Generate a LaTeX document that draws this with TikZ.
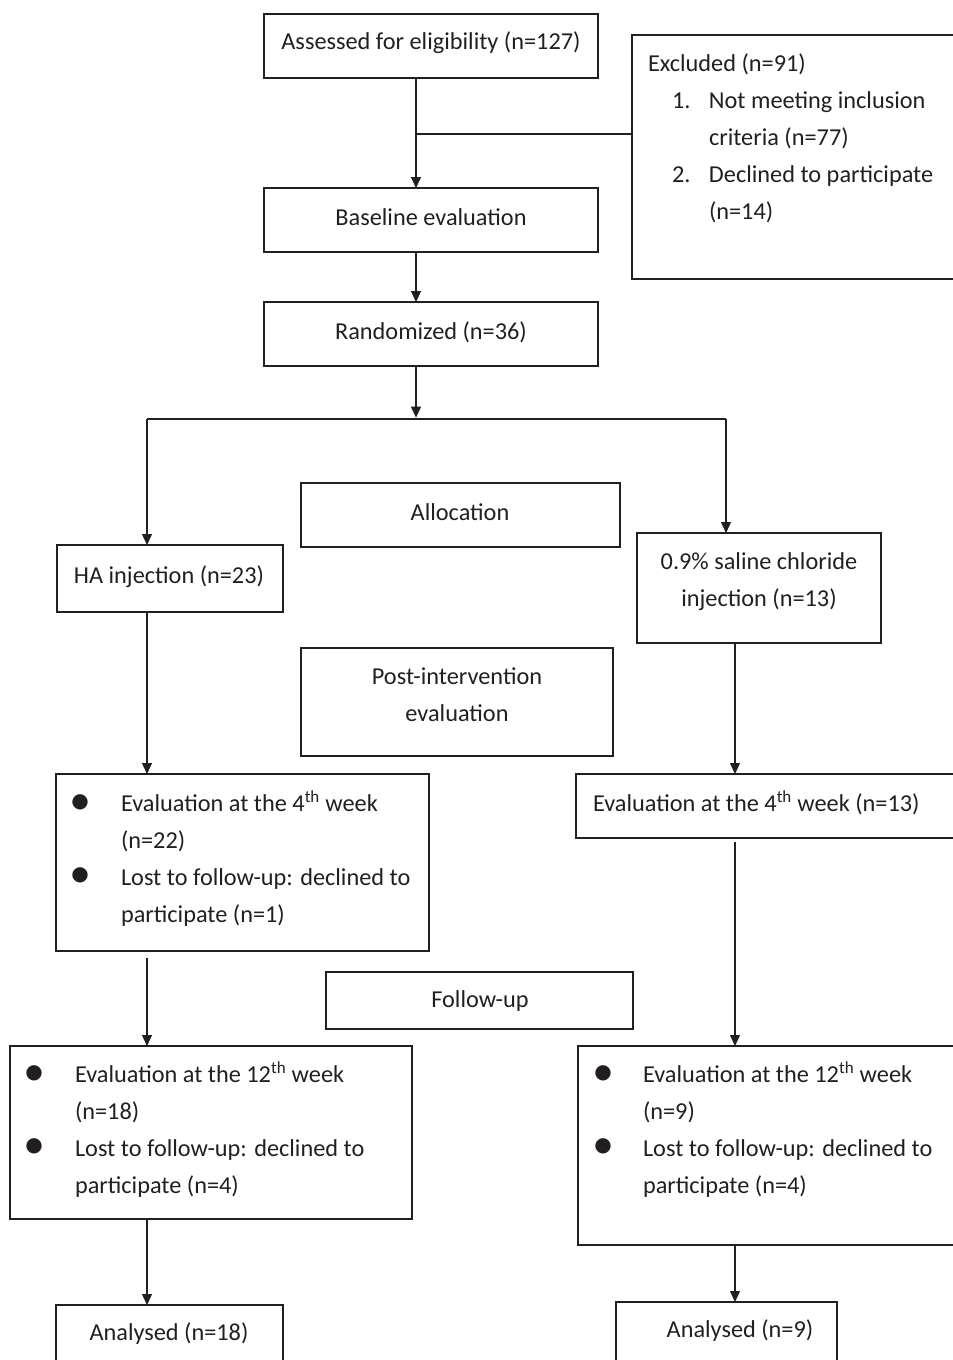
\documentclass[tikz,border=0pt]{standalone}
\usepackage{fontspec}
\setmainfont{Carlito}
\newfontfamily\djfont{DejaVu Sans}
\usetikzlibrary{arrows.meta}
\definecolor{ink}{RGB}{35,31,32}
\newcommand\mybox[5]{\node[bx, minimum width={#4-#2}, minimum height={#5-#3}] (#1) at ({(#2+#4)/2},{(#3+#5)/2}) {};}
\begin{document}
\begin{tikzpicture}[x=1pt,y=-1pt,
  bx/.style={draw=ink, line width=1.2pt, inner sep=0pt, outer sep=0pt, rectangle},
  tx/.style={inner sep=0pt, outer sep=0pt, align=left, text=ink, yshift=-2pt, font=\fontsize{24.3}{37}\selectfont},
  txc/.style={tx, align=center},
  bul/.style={inner sep=0pt, outer sep=0pt, text=ink, font=\djfont\fontsize{20}{24}\selectfont},
  arr/.style={draw=ink, line width=1.2pt, -{Triangle[length=11pt,width=10pt]}},
  ln/.style={draw=ink, line width=1.2pt},
  thick line/.style={draw=ink, line width=2.8pt}]
\useasboundingbox (0,0) rectangle (953,1360);
% boxes
\mybox{assess}{264}{14}{598}{78}
\mybox{excl}{632}{35}{1000}{279}
\mybox{base}{264}{188}{598}{252}
\mybox{rand}{264}{302}{598}{366}
\mybox{alloc}{301}{483}{620}{547}
\mybox{ha}{57}{545}{283}{612}
\mybox{sal}{637}{533}{881}{643}
\mybox{post}{301}{648}{613}{756}
\mybox{lwa}{56}{774}{429}{951}
\mybox{rwa}{576}{774}{1000}{838}
\mybox{fu}{326}{972}{633}{1029}
\mybox{lwb}{10}{1046}{412}{1219}
\mybox{rwb}{578}{1046}{1000}{1245}
\mybox{lan}{56}{1305}{283}{1400}
\mybox{ran}{616}{1302}{837}{1400}
% texts
\node[txc] (t-assess) at (431,41) {Assessed for eligibility (n=127)};
\node[tx, anchor=west] (t-excl) at (648,136) {Excluded (n=91)\\
\hspace*{24pt}\makebox[37pt][l]{1.}Not meeting inclusion\\
\hspace*{61pt}criteria (n=77)\\
\hspace*{24pt}\makebox[37pt][l]{2.}Declined to participate\\
\hspace*{61pt}(n=14)};
\node[txc] (t-base) at (431,215) {Baseline evaluation};
\node[txc] (t-rand) at (431,330) {Randomized (n=36)};
\node[txc] (t-alloc) at (460,510) {Allocation};
\node[txc] (t-ha) at (169,575) {HA injection (n=23)};
\node[txc] (t-sal) at (759,580) {0.9\% saline chloride\\injection (n=13)};
\node[txc] (t-post) at (457,693) {Post-intervention\\evaluation};
\node[tx, anchor=west] (t-lwa) at (121,857) {Evaluation at the 4\textsuperscript{th} week\\(n=22)\\Lost to follow-up: declined to\\participate (n=1)};
\node[bul] (b1) at (80,802) {●};
\node[bul] (b2) at (80,875) {●};
\node[tx, anchor=west] (t-rwa) at (593,801) {Evaluation at the 4\textsuperscript{th} week (n=13)};
\node[txc] (t-fu) at (480,999) {Follow-up};
\node[tx, anchor=west] (t-lwb) at (75,1128) {Evaluation at the 12\textsuperscript{th} week\\(n=18)\\Lost to follow-up: declined to\\participate (n=4)};
\node[bul] (b3) at (34,1073) {●};
\node[bul] (b4) at (34,1146) {●};
\node[tx, anchor=west] (t-rwb) at (643,1128) {Evaluation at the 12\textsuperscript{th} week\\(n=9)\\Lost to follow-up: declined to\\participate (n=4)};
\node[bul] (b5) at (603,1073) {●};
\node[bul] (b6) at (603,1146) {●};
\node[txc] (t-lan) at (169,1332) {Analysed (n=18)};
\node[txc] (t-ran) at (740,1329) {Analysed (n=9)};
% connectors
\coordinate (cx) at (416,134);
\coordinate (split) at (416,419);
\coordinate (sl) at (147,419);
\coordinate (sr) at (726,419);
\coordinate (lx) at (147,0);
\coordinate (rx) at (735,0);
\coordinate (lwaB) at ([yshift=-7pt]lwa.south);
\coordinate (rwaB) at ([yshift=-4pt]rwa.south);
\draw[arr] (assess.south -| cx) -- (base.north -| cx);
\draw[ln] (cx) -- (cx -| excl.west);
\draw[arr] (base.south -| cx) -- (rand.north -| cx);
\draw[thick line] (sl) -- (sr);
\draw[arr] (rand.south -| split) -- ([yshift=1.4pt]split);
\draw[arr] (sl) -- (ha.north -| sl);
\draw[arr] (sr) -- (sal.north -| sr);
\draw[arr] (ha.south -| lx) -- (lwa.north -| lx);
\draw[arr] (sal.south -| rx) -- (rwa.north -| rx);
\draw[arr] (lwaB -| lx) -- (lwb.north -| lx);
\draw[arr] (rwaB -| rx) -- (rwb.north -| rx);
\draw[arr] (lwb.south -| lx) -- (lan.north -| lx);
\draw[arr] (rwb.south -| rx) -- (ran.north -| rx);
\end{tikzpicture}
\end{document}
